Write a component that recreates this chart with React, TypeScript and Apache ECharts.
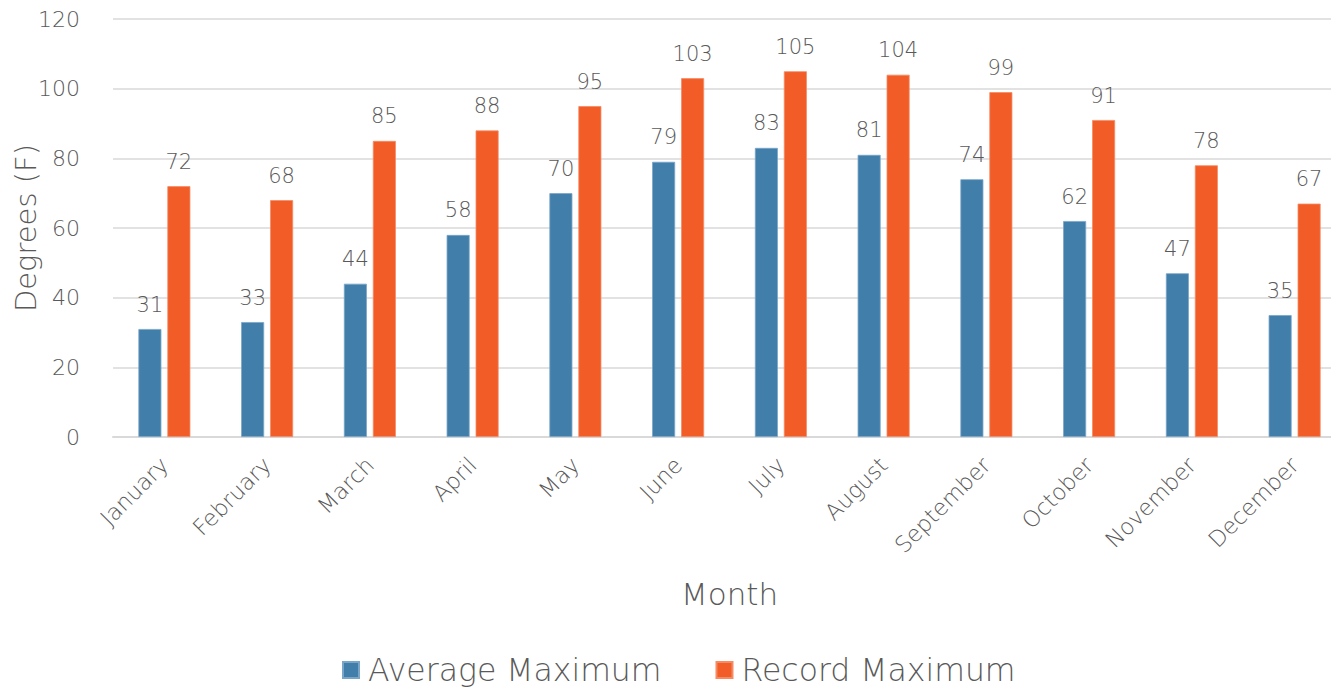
import React, { useEffect, useRef } from "react";
import * as echarts from "echarts";

const months = [
  "January", "February", "March", "April", "May", "June",
  "July", "August", "September", "October", "November", "December",
];
const averageMaximum = [31, 33, 44, 58, 70, 79, 83, 81, 74, 62, 47, 35];
const recordMaximum = [72, 68, 85, 88, 95, 103, 105, 104, 99, 91, 78, 67];
const seriesNames = ["Average Maximum", "Record Maximum"];

const FONT = "'Century Gothic', 'DejaVu Sans', sans-serif";
const TEXT = "#595959";

export default function App() {
  const ref = useRef<HTMLDivElement>(null);

  useEffect(() => {
    if (!ref.current) return;
    const chart = echarts.init(ref.current, undefined, { renderer: "svg" });
    const label = {
      show: true,
      position: "top",
      distance: 14,
      color: TEXT,
      fontFamily: FONT,
      fontSize: 21,
      fontWeight: 200,
    };
    chart.setOption({
      animation: false,
      textStyle: { fontFamily: FONT, color: TEXT },
      grid: {
        left: 113,
        right: -15,
        top: 19,
        bottom: 252,
        containLabel: false,
        outerBoundsMode: "none",
      },
      legend: {
        data: seriesNames,
        left: 337,
        top: 649,
        itemWidth: 16,
        itemHeight: 16,
        itemGap: 54,
        icon: "rect",
        textStyle: { fontSize: 31.5, color: TEXT, fontFamily: FONT, fontWeight: 200, padding: [0, 0, 0, 4] },
      },
      xAxis: {
        type: "category",
        data: months,
        name: "Month",
        nameLocation: "middle",
        nameGap: 141,
        nameMoveOverlap: false,
        nameTextStyle: { fontSize: 31, color: TEXT, fontFamily: FONT, fontWeight: 200 },
        axisLine: { lineStyle: { color: "#d9d9d9", width: 2 } },
        axisTick: { show: false },
        axisLabel: {
          rotate: 45,
          margin: 24,
          fontSize: 22.5,
          color: TEXT,
          fontFamily: FONT,
          fontWeight: 200,
        },
      },
      yAxis: {
        type: "value",
        min: 0,
        max: 120,
        interval: 20,
        name: "Degrees (F)",
        nameLocation: "middle",
        nameGap: 73,
        nameRotate: 90,
        nameMoveOverlap: false,
        nameTextStyle: { fontSize: 29, color: TEXT, fontFamily: FONT, fontWeight: 200 },
        axisLine: { show: false },
        axisTick: { show: false },
        axisLabel: { margin: 33, fontSize: 22, color: TEXT, fontFamily: FONT, fontWeight: 200 },
        splitLine: { lineStyle: { color: "#d9d9d9", width: 1.5 } },
      },
      series: [
        {
          name: seriesNames[0],
          type: "bar",
          data: averageMaximum,
          barWidth: 23,
          barGap: "26%",
          itemStyle: { color: "#417eaa", borderColor: "#79a6c8", borderWidth: 0.8 },
          label,
        },
        {
          name: seriesNames[1],
          type: "bar",
          data: recordMaximum,
          barWidth: 23,
          barGap: "26%",
          itemStyle: { color: "#f15c27", borderColor: "#f58a63", borderWidth: 0.8 },
          label,
        },
      ],
    });
    return () => chart.dispose();
  }, []);

  return (
    <div
      ref={ref}
      style={{ position: "fixed", left: 0, top: 0, width: 1331, height: 689, background: "#fff" }}
    />
  );
}
